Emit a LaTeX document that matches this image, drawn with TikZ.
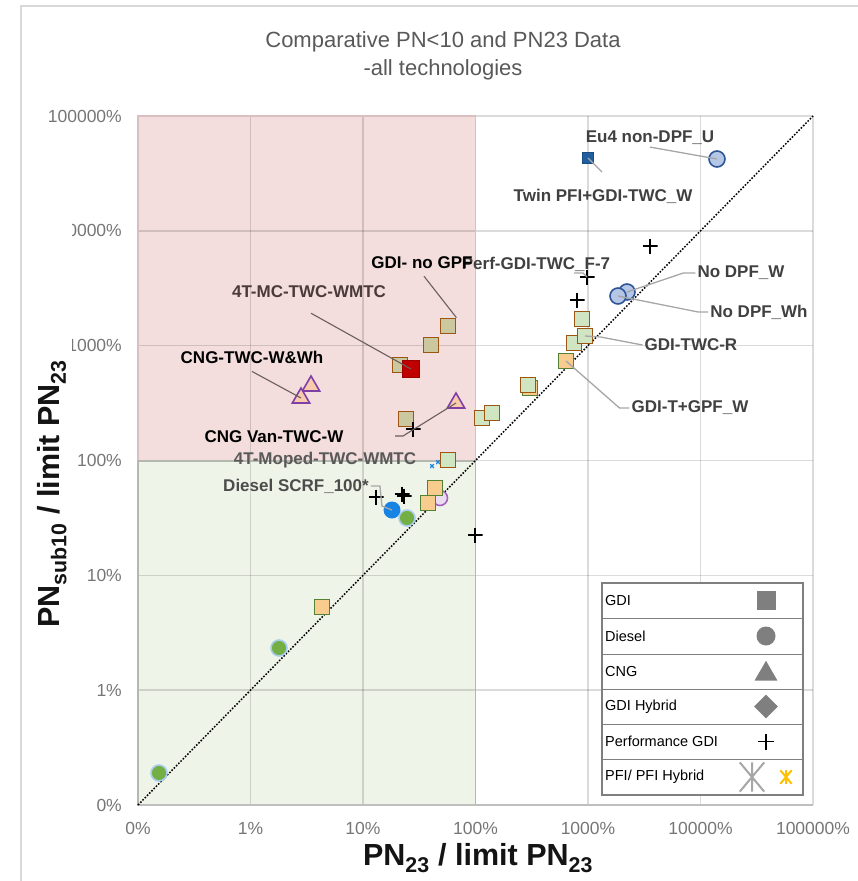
\documentclass[tikz,border=0pt]{standalone}
\usepackage{fontspec}
\setmainfont{Liberation Sans}
\usepackage{graphicx}
\usetikzlibrary{shapes.geometric,calc}

\definecolor{framegray}{HTML}{D9D9D9}
\definecolor{titlegray}{HTML}{595959}
\definecolor{tickgray}{HTML}{767676}
\definecolor{pinkzone}{HTML}{F3DEDD}
\definecolor{pinkedge}{HTML}{D9BFBF}
\definecolor{greenzone}{HTML}{EFF4E8}
\definecolor{greenedge}{HTML}{B4B8AE}
\definecolor{gdigreen}{HTML}{D0E5C1}
\definecolor{gdikhaki}{HTML}{CBC8A0}
\definecolor{gdibrown}{HTML}{9C5512}
\definecolor{gdiorange}{HTML}{F8CB8E}
\definecolor{gdiolive}{HTML}{548235}
\definecolor{redsq}{HTML}{C00000}
\definecolor{twinblue}{HTML}{1F5F9F}
\definecolor{dslfill}{HTML}{B4C7E7}
\definecolor{dslline}{HTML}{2F5597}
\definecolor{scrfblue}{HTML}{1783E2}
\definecolor{dslgreen}{HTML}{74AF43}
\definecolor{halo}{HTML}{A9CDEF}
\definecolor{cngfill}{HTML}{F8CBAD}
\definecolor{cngline}{HTML}{7F3FA6}
\definecolor{lilac}{HTML}{A463BE}
\definecolor{lilacfill}{HTML}{EBDDF0}
\definecolor{labeldark}{HTML}{404040}
\definecolor{labelbrown}{HTML}{4A3A3A}
\definecolor{labelmid}{HTML}{595959}
\definecolor{leadgray}{HTML}{A6A6A6}
\definecolor{leaddarkc}{HTML}{6A5E5E}
\definecolor{leggray}{HTML}{7F7F7F}
\definecolor{pfigray}{HTML}{A6A6A6}
\definecolor{pfiorange}{HTML}{FFC000}

\tikzset{
  gridline/.style={draw=black, draw opacity=0.14, line width=1.5},
  ticklab/.style={font=\fontsize{17.5}{20}\selectfont, text=tickgray, inner sep=0},
  axistitle/.style={font=\fontsize{30.5}{33}\selectfont\bfseries, text=black!92, inner sep=0},
  ptlabel/.style={font=\fontsize{17}{20}\selectfont\bfseries, text=labeldark, inner sep=2},
  lead/.style={draw=leadgray, line width=1.3},
  leaddark/.style={draw=leaddarkc, line width=1.1},
  gdisq/.style={rectangle, draw=gdibrown, line width=1.8, fill=gdigreen, minimum size=15, inner sep=0},
  gdisqp/.style={gdisq, fill=gdikhaki},
  gdisqo/.style={gdisq, draw=gdiolive, fill=gdiorange},
  redbox/.style={rectangle, fill=redsq, draw=redsq!80!black, line width=0.8, minimum size=17, inner sep=0},
  twinbox/.style={rectangle, fill=twinblue, draw=twinblue!80!black, line width=0.6, minimum size=11, inner sep=0},
  dsl/.style={circle, fill=dslfill, draw=dslline, line width=1.6, minimum size=16, inner sep=0},
  scrf/.style={circle, fill=scrfblue, minimum size=17, inner sep=0},
  dslg/.style={circle, fill=dslgreen, draw=halo, line width=1.6, minimum size=16, inner sep=0},
  lilacc/.style={circle, fill=lilacfill, draw=lilac, line width=1.6, minimum size=15, inner sep=0},
  cng/.style={regular polygon, regular polygon sides=3, fill=cngfill, draw=cngline, line width=1.6, minimum size=20, inner sep=0},
  plus/.style={rectangle, minimum size=#1, inner sep=0,
    path picture={\draw[black, line width=1.9]
      (path picture bounding box.north) -- (path picture bounding box.south)
      (path picture bounding box.west) -- (path picture bounding box.east);}},
  plus/.default=15,
  tinyx/.style={rectangle, minimum size=4, inner sep=0,
    path picture={\draw[scrfblue, line width=1.2]
      (path picture bounding box.north west) -- (path picture bounding box.south east)
      (path picture bounding box.north east) -- (path picture bounding box.south west);}},
  star/.style={rectangle, minimum width=#1, minimum height=1.2*#1, inner sep=0},
  legtext/.style={font=\fontsize{14.5}{17}\selectfont, text=black, anchor=west, inner sep=0},
  legsym/.style={fill=leggray, inner sep=0},
}

\begin{document}
\begin{tikzpicture}[x=1pt, y=-1pt]
\useasboundingbox (0,0) rectangle (858,881);

% outer chart frame
\draw[framegray, line width=1.2] (21,881) -- (21,6) -- (858,6);

% title
\node[font=\fontsize{22}{28}\selectfont, text=titlegray, align=center] (title) at (443,56)
  {Comparative PN<10 and PN23 Data\\-all technologies};

% shaded zones
\fill[pinkzone] (138,116) rectangle (475.5,461);
\fill[greenzone] (138,461) rectangle (475.5,805);

% grid
\foreach \k in {1,...,6} \draw[gridline] (138+112.5*\k,116) -- (138+112.5*\k,805);
\foreach \k in {0,...,5} \draw[gridline] (138,116+114.83*\k) -- (813,116+114.83*\k);

% zone borders
\draw[pinkedge, line width=1.8] (138,461) -- (138,116) -- (475.5,116) -- (475.5,461);
\draw[greenedge, line width=1.8] (138,461) rectangle (475.5,805);
\draw[black!25, line width=1.5] (138,805) -- (813,805);

% parity line
\coordinate (orig) at (138,805);
\coordinate (topr) at (813,116);
\draw[black, line width=1.5, dash pattern=on 1.6pt off 1.6pt] (orig) -- (topr);

% tick labels
\foreach \k/\v in {0/100000,1/10000,2/1000,3/100,4/10,5/1,6/0}
  \node[ticklab, anchor=east] (yt\k) at (122,116+114.83*\k) {\v\%};
\foreach \k/\v in {0/0,1/1,2/10,3/100,4/1000,5/10000,6/100000}
  \node[ticklab] (xt\k) at (138+112.5*\k,828) {\v\%};

% axis titles (the vertical one sits on a white box)
\fill[white] (25,220) rectangle (72,645);
\node[axistitle, rotate=90] (ytitle) at (52,494) {PN\textsubscript{sub10} / limit PN\textsubscript{23}};
\node[axistitle] (xtitle) at (478,858) {PN\textsubscript{23} / limit PN\textsubscript{23}};

% ---- data: diesel
\node[dsl] (euU) at (717,159) {};
\node[dsl] (ndW) at (627,292) {};
\node[dsl] (ndWh) at (618,296) {};
\node[scrf] (scrf) at (392,510) {};
\node[dslg] (dg1) at (407,518) {};
\node[dslg] (dg2) at (279,648) {};
\node[dslg] (dg3) at (159,773) {};
\node[lilacc] (lc1) at (440,498) {};

% ---- data: GDI
\node[gdisqo] (go1) at (530,388) {};
\node[gdisq] (gg1) at (528,385) {};
\node[gdisq] (gg2) at (574,343) {};
\node[gdisq] (gA) at (585,336) {};
\node[gdisq] (gg3) at (582,319) {};
\node[gdisqo] (go2) at (566,361) {};
\node[gdisq] (gg4) at (482,418) {};
\node[gdisq] (gg5) at (492,413) {};
\node[gdisq] (gg6) at (448,460) {};
\node[gdisqp] (gp1) at (448,326) {};
\node[gdisqp] (gp2) at (431,345) {};
\node[gdisqp] (gp3) at (400,365) {};
\node[gdisqp] (gp4) at (406,419) {};
\node[redbox] (red) at (411,369) {};
\node[gdisqo] (go3) at (435,488) {};
\node[gdisqo] (go4) at (428,503) {};
\node[gdisqo] (go5) at (322,607) {};
\node[twinbox] (twin) at (588,158) {};

% ---- data: CNG
\node[cng] (tr1) at (311,386) {};
\node[cng] (tr2) at (301,398) {};
\node[cng] (tr3) at (456,403) {};

% ---- data: performance GDI
\node[plus] (p1) at (650,246) {};
\node[plus] (p2) at (587,277) {};
\node[plus] (p3) at (577,300) {};
\node[plus] (p4) at (413,429) {};
\node[plus] (p5) at (376,497) {};
\node[plus] (p6) at (402,494) {};
\node[plus] (p7) at (404,496) {};
\node[plus] (p8) at (475,535) {};

% ---- data: PFI
\node[tinyx] (x1) at (432,466) {};
\node[tinyx] (x2) at (438,462) {};

% ---- point labels
\node[ptlabel] (lEu) at (650,138) {Eu4 non-DPF\_U};
\node[ptlabel] (lTwin) at (603,196) {Twin PFI+GDI-TWC\_W};
\node[ptlabel] (lPerf) at (536,264) {Perf-GDI-TWC\_F-7};
\node[ptlabel, text=black] (lNoGPF) at (422,263) {GDI- no GPF};
\node[ptlabel, text=labelbrown] (lMC) at (309,292) {4T-MC-TWC-WMTC};
\node[ptlabel] (lNW) at (741,273) {No DPF\_W};
\node[ptlabel] (lNWh) at (759,312) {No DPF\_Wh};
\node[ptlabel, text=black] (lCNG) at (252,357) {CNG-TWC-W\&Wh};
\node[ptlabel] (lTR) at (691,345) {GDI-TWC-R};
\node[ptlabel] (lTG) at (690,408) {GDI-T+GPF\_W};
\node[ptlabel, text=black] (lVan) at (274,437) {CNG Van-TWC-W};
\node[ptlabel, text=labelmid] (lMop) at (325,460) {4T-Moped-TWC-WMTC};
\node[ptlabel, text=black!70] (lSCRF) at (296,486) {Diesel SCRF\_100*};

% ---- leader lines
\coordinate (twEnd) at (602,172);
\coordinate (pfA) at (574,273);
\coordinate (vanA) at (395,436);
\draw[lead] (lEu.south) -- (euU.center);
\draw[lead] (twin.center) -- (twEnd);
\draw[lead] (pfA) -- ++(9,0) -- (p2.center);
\draw[leaddark] ($(lNoGPF.south)+(2,5)$) -- (gp1.north east);
\draw[leaddark] ($(lMC.south)+(2,13)$) -- (red.center);
\draw[leaddark] ($(lCNG.south)+(0,6)$) -- (tr2.center);
\draw[leaddark] (vanA) -- ++(8,0) -- (tr3.center);
\draw[lead] (lSCRF.east) -- ++(9,0) -- ++(2,20) -- (scrf.center);
\draw[lead] (lNW.west) -- ++(-12,0) -- (ndW.center);
\draw[lead] (lNWh.west) -- ++(-10,0) -- (ndWh.center);
\draw[lead] (lTR.west) -- ++(-42,-8) -- (gA.center);
\draw[lead] (lTG.west) -- ++(-10,0) -- (go2.center);

% ---- legend
\draw[leggray, fill=white, line width=1.2] (602,583) rectangle (803,795);
\foreach \y in {618,654,689,724,759} \draw[leggray, line width=1] (602,\y) -- (803,\y);
\node[legtext] (leg1) at (605,600.5) {GDI};
\node[legtext] (leg2) at (605,636) {Diesel};
\node[legtext] (leg3) at (605,671.5) {CNG};
\node[legtext] (leg4) at (605,706.5) {GDI Hybrid};
\node[legtext] (leg5) at (605,741.5) {Performance GDI};
\node[legtext] (leg6) at (605,777) {PFI/ PFI Hybrid};
\node[legsym, rectangle, minimum size=19] (sym1) at (766,600.5) {};
\node[legsym, circle, minimum size=19] (sym2) at (766,636) {};
\node[legsym, regular polygon, regular polygon sides=3, minimum size=26.5] (sym3) at (766,674) {};
\node[legsym, diamond, minimum width=24, minimum height=24] (sym4) at (766,706.5) {};
\node[plus=16] (sym5) at (766,741.5) {};
\node[star=24] (sym6) at (752,777) {};
\draw[pfigray, line width=2] (sym6.north) -- (sym6.south)
  (sym6.north west) -- (sym6.south east) (sym6.north east) -- (sym6.south west);
\node[star=11] (sym7) at (786,777) {};
\draw[pfiorange, line width=2] (sym7.north) -- (sym7.south)
  (sym7.north west) -- (sym7.south east) (sym7.north east) -- (sym7.south west);
\end{tikzpicture}
\end{document}
